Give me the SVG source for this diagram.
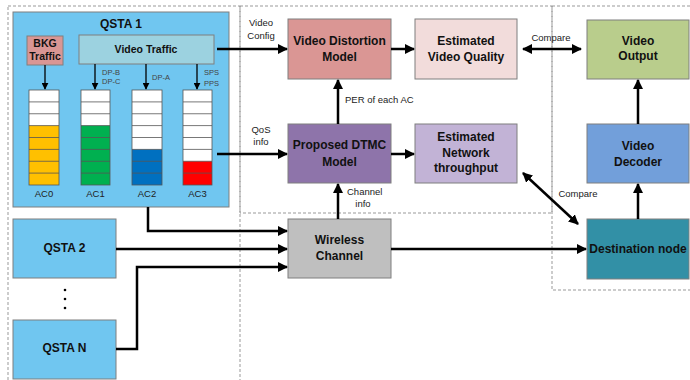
<svg xmlns="http://www.w3.org/2000/svg" width="690" height="380" viewBox="0 0 690 380">
<style>
.region{fill:none;stroke:#999;stroke-width:1;stroke-dasharray:3,2}
.node{stroke:#7f7f7f;stroke-width:1}
.t{font-family:"Liberation Sans",Arial,sans-serif;font-weight:bold;font-size:12px;text-anchor:middle;fill:#111}
.s{font-family:"Liberation Sans",Arial,sans-serif;font-size:9.5px;fill:#222}
.xs{font-family:"Liberation Sans",Arial,sans-serif;font-size:7.5px;fill:#444}
.c{fill:none;stroke:#000;stroke-width:2.5}
.cs{fill:none;stroke:#000;stroke-width:1.3}
.cell{stroke:#555;stroke-width:0.8}
.q{fill:#fff}
</style>
<defs>
<marker id="ah" viewBox="0 0 10 10" refX="9" refY="5" markerWidth="10" markerHeight="10" markerUnits="userSpaceOnUse" orient="auto-start-reverse"><path d="M0,0 L10,5 L0,10 z" fill="#000"/></marker>
<marker id="ahs" viewBox="0 0 10 10" refX="9" refY="5" markerWidth="7" markerHeight="7" markerUnits="userSpaceOnUse" orient="auto"><path d="M0,0 L10,5 L0,10 z" fill="#000"/></marker>
</defs>
<rect width="690" height="380" fill="#fff"/>
<g id="regions">
<rect class="region" x="8" y="6" width="232" height="380"/>
<rect class="region" x="240" y="6" width="312" height="207"/>
<rect class="region" x="552" y="6" width="145" height="284"/>
</g>
<g id="qsta1">
<rect class="node" x="13" y="12" width="216" height="195" fill="#70C6F0"/>
<text class="t" x="121" y="28">QSTA 1</text>
<g id="bkg"><rect class="node" x="27" y="36" width="36" height="29" fill="#D99694"/>
<text class="t" style="font-size:10.5px" x="45" y="47">BKG</text><text class="t" style="font-size:10.5px" x="45" y="60">Traffic</text></g>
<g id="videotraffic"><rect class="node" x="79" y="35" width="135" height="29" fill="#9CD2E0"/>
<text class="t" style="font-size:10.5px" x="146" y="53">Video Traffic</text></g>
<g id="ac0">
<rect class="q" x="29" y="90" width="30" height="95"/>
<rect x="29" y="125.6" width="30" height="59.4" fill="#FFC000"/>
<g class="cell" fill="none"><rect x="29" y="90" width="30" height="95"/><path d="M29,101.9H59M29,113.75H59M29,125.6H59M29,137.5H59M29,149.4H59M29,161.25H59M29,173.1H59"/></g>
<text class="s" x="44" y="197" text-anchor="middle">AC0</text></g>
<g id="ac1">
<rect class="q" x="81" y="90" width="29" height="95"/>
<rect x="81" y="125.6" width="29" height="59.4" fill="#00B050"/>
<g class="cell" fill="none"><rect x="81" y="90" width="29" height="95"/><path d="M81,101.9H110M81,113.75H110M81,125.6H110M81,137.5H110M81,149.4H110M81,161.25H110M81,173.1H110"/></g>
<text class="s" x="95.5" y="197" text-anchor="middle">AC1</text></g>
<g id="ac2">
<rect class="q" x="132" y="90" width="30" height="95"/>
<rect x="132" y="149.4" width="30" height="35.6" fill="#0070C0"/>
<g class="cell" fill="none"><rect x="132" y="90" width="30" height="95"/><path d="M132,101.9H162M132,113.75H162M132,125.6H162M132,137.5H162M132,149.4H162M132,161.25H162M132,173.1H162"/></g>
<text class="s" x="147" y="197" text-anchor="middle">AC2</text></g>
<g id="ac3">
<rect class="q" x="183" y="90" width="29" height="95"/>
<rect x="183" y="161.25" width="29" height="23.75" fill="#FF0000"/>
<g class="cell" fill="none"><rect x="183" y="90" width="29" height="95"/><path d="M183,101.9H212M183,113.75H212M183,125.6H212M183,137.5H212M183,149.4H212M183,161.25H212M183,173.1H212"/></g>
<text class="s" x="197.5" y="197" text-anchor="middle">AC3</text></g>
<g id="inner-arrows">
<path class="cs" d="M45,65V89" marker-end="url(#ahs)"/>
<path class="cs" d="M95,64V89" marker-end="url(#ahs)"/>
<path class="cs" d="M146,64V89" marker-end="url(#ahs)"/>
<path class="cs" d="M197,64V89" marker-end="url(#ahs)"/>
<text class="xs" x="102" y="75">DP-B</text><text class="xs" x="102" y="84">DP-C</text>
<text class="xs" x="152" y="80">DP-A</text>
<text class="xs" x="204" y="75">SPS</text><text class="xs" x="204" y="86">PPS</text>
</g>
</g>
<g id="qsta2"><rect class="node" x="13" y="219" width="103" height="59" fill="#70C6F0"/><text class="t" x="64.5" y="252">QSTA 2</text></g>
<g id="dots"><circle cx="65" cy="290" r="1.3" fill="#000"/><circle cx="65" cy="299" r="1.3" fill="#000"/><circle cx="65" cy="308" r="1.3" fill="#000"/></g>
<g id="qstan"><rect class="node" x="13" y="320" width="103" height="59" fill="#70C6F0"/><text class="t" x="64.5" y="352">QSTA N</text></g>
<g id="vdm"><rect class="node" x="288" y="19" width="103" height="60" fill="#DA9694"/><text class="t" x="339.5" y="45">Video Distortion</text><text class="t" x="339.5" y="61">Model</text></g>
<g id="evq"><rect class="node" x="415" y="19" width="102" height="60" fill="#F2DCDB"/><text class="t" x="466" y="45">Estimated</text><text class="t" x="466" y="61">Video Quality</text></g>
<g id="dtmc"><rect class="node" x="288" y="124" width="103" height="59" fill="#8E74AA"/><text class="t" x="339.5" y="149">Proposed DTMC</text><text class="t" x="339.5" y="166">Model</text></g>
<g id="ent"><rect class="node" x="415" y="124" width="102" height="59" fill="#C2B3D6"/><text class="t" x="466" y="141">Estimated</text><text class="t" x="466" y="157">Network</text><text class="t" x="466" y="172">throughput</text></g>
<g id="wireless"><rect class="node" x="288" y="219" width="103" height="59" fill="#BFBFBF"/><text class="t" x="339.5" y="244">Wireless</text><text class="t" x="339.5" y="260">Channel</text></g>
<g id="output"><rect class="node" x="587" y="20" width="102" height="59" fill="#B9CD8C"/><text class="t" x="638" y="45">Video</text><text class="t" x="638" y="60">Output</text></g>
<g id="decoder"><rect class="node" x="587" y="124" width="102" height="59" fill="#729FDA"/><text class="t" x="638" y="150">Video</text><text class="t" x="638" y="166">Decoder</text></g>
<g id="dest"><rect class="node" x="587" y="219" width="102" height="60" fill="#3290A6"/><text class="t" x="638" y="253">Destination node</text></g>
<g id="connectors">
<path class="c" d="M217,49H287" marker-end="url(#ah)"/>
<path class="c" d="M391,49H414" marker-end="url(#ah)"/>
<path class="c" d="M217,154H287" marker-end="url(#ah)"/>
<path class="c" d="M391,154H414" marker-end="url(#ah)"/>
<path class="c" d="M338,124V80" marker-end="url(#ah)"/>
<path class="c" d="M338,219V184" marker-end="url(#ah)"/>
<path class="c" d="M148,207V231H287" marker-end="url(#ah)"/>
<path class="c" d="M116,249H287" marker-end="url(#ah)"/>
<path class="c" d="M116,349H137V267H287" marker-end="url(#ah)"/>
<path class="c" d="M391,249H586" marker-end="url(#ah)"/>
<path class="c" d="M638,219V184" marker-end="url(#ah)"/>
<path class="c" d="M638,124V80" marker-end="url(#ah)"/>
<path class="c" d="M523,49H581" marker-start="url(#ah)" marker-end="url(#ah)"/>
<path class="c" d="M523,173L578,224" marker-start="url(#ah)" marker-end="url(#ah)"/>
<text class="s" x="261" y="26" text-anchor="middle">Video</text>
<text class="s" x="261" y="39" text-anchor="middle">Config</text>
<text class="s" x="261" y="133" text-anchor="middle">QoS</text>
<text class="s" x="261" y="145" text-anchor="middle">info</text>
<text class="s" x="345" y="103">PER of each AC</text>
<text class="s" x="347" y="195">Channel</text>
<text class="s" x="363" y="207" text-anchor="middle">info</text>
<text class="s" x="551" y="41" text-anchor="middle">Compare</text>
<text class="s" x="578" y="197" text-anchor="middle">Compare</text>
</g>
</svg>
